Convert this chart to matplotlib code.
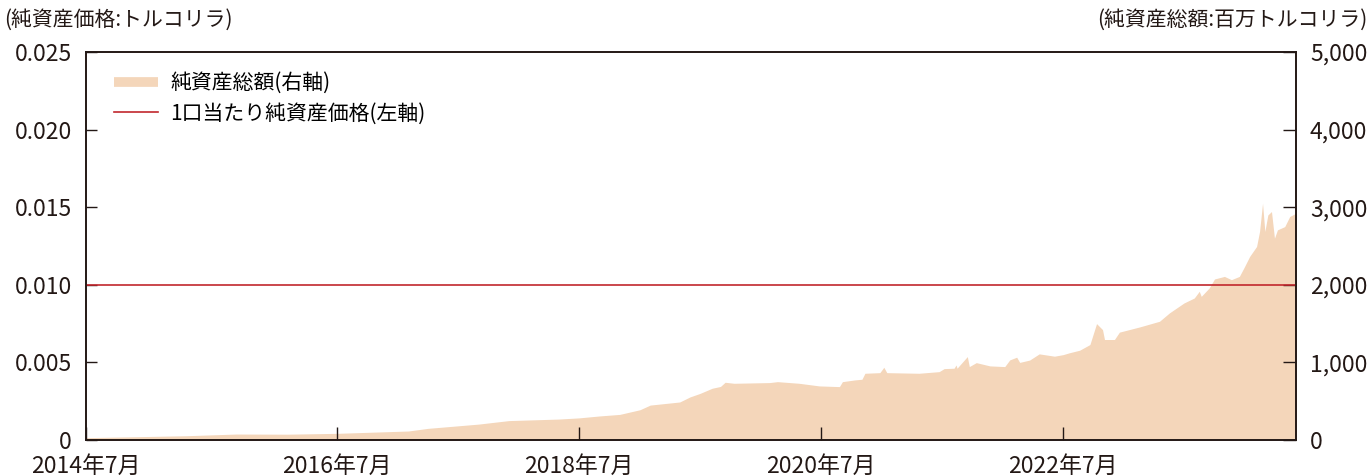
import pandas as pd
import matplotlib.pyplot as plt
from matplotlib.lines import Line2D

plt.rcParams['font.family'] = ['Noto Sans CJK JP', 'DejaVu Sans']

# 純資産総額 (百万トルコリラ)
nav_dates = [
    '2014-06-04', '2015-04-01', '2015-09-01', '2016-02-01', '2016-07-01',
    '2017-02-01', '2017-04-01', '2017-09-01', '2017-12-01', '2018-05-01',
    '2018-07-01', '2018-09-01', '2018-11-01', '2019-01-01', '2019-02-01',
    '2019-05-01', '2019-06-01', '2019-07-01', '2019-08-07', '2019-09-01',
    '2019-09-15', '2019-10-12', '2020-01-27', '2020-02-20', '2020-04-25',
    '2020-06-25', '2020-08-25', '2020-09-03', '2020-10-10', '2020-11-01',
    '2020-11-10', '2020-12-25', '2021-01-06', '2021-01-15', '2021-04-22',
    '2021-06-22', '2021-07-07', '2021-08-06', '2021-08-12', '2021-08-15',
    '2021-09-15', '2021-09-21', '2021-10-12', '2021-11-22', '2022-01-06',
    '2022-01-21', '2022-02-11', '2022-02-20', '2022-03-22', '2022-04-20',
    '2022-06-05', '2022-07-01', '2022-07-20', '2022-08-20', '2022-09-20',
    '2022-10-10', '2022-10-28', '2022-11-03', '2022-12-03', '2022-12-18',
    '2023-02-18', '2023-04-18', '2023-05-18', '2023-07-01', '2023-08-01',
    '2023-08-16', '2023-08-22', '2023-09-15', '2023-10-01', '2023-10-31',
    '2023-11-21', '2023-12-15', '2023-12-30', '2024-01-15', '2024-02-05',
    '2024-02-14', '2024-02-23', '2024-03-01', '2024-03-10', '2024-03-21',
    '2024-03-30', '2024-04-08', '2024-04-30', '2024-05-15', '2024-06-03',
]
nav_values = [
    30, 55, 77, 75, 86,
    116, 150, 205, 250, 270,
    285, 310, 330, 390, 450,
    490, 555, 600, 667, 690,
    744, 731, 740, 752, 731,
    697, 688, 752, 774, 783,
    860, 868, 937, 868, 860,
    881, 920, 925, 967, 925,
    1075, 946, 997, 955, 946,
    1032, 1067, 1000, 1030, 1110,
    1080, 1100, 1124, 1157, 1230,
    1500, 1423, 1295, 1295, 1390,
    1458, 1530, 1638, 1766, 1830,
    1916, 1851, 1959, 2075, 2108,
    2066, 2108, 2229, 2365, 2494,
    2687, 3050, 2687, 2900, 2944,
    2600, 2708, 2750, 2880, 2923,
]

# 1口当たり純資産価格 (トルコリラ)
price_dates = ['2014-06-04', '2024-06-03']
price_values = [0.01, 0.01]

x_ticks = ['2014-06-04', '2016-07-01', '2018-07-01', '2020-07-01', '2022-07-01']
x_labels = ['2014年7月', '2016年7月', '2018年7月', '2020年7月', '2022年7月']
left_ticks = [0, 0.005, 0.010, 0.015, 0.020, 0.025]
left_labels = ['0', '0.005', '0.010', '0.015', '0.020', '0.025']
right_ticks = [0, 1000, 2000, 3000, 4000, 5000]
right_labels = ['0', '1,000', '2,000', '3,000', '4,000', '5,000']

peach = '#F4D6BA'
red = '#C1272D'
dark = '#231815'

fig = plt.figure(figsize=(13.71, 4.76), dpi=100)
ax = fig.add_axes([0.0627, 0.0756, 0.8826, 0.8152])
ax2 = ax.twinx()

nd = pd.to_datetime(nav_dates)
ax2.fill_between(nd, nav_values, 0, color=peach, linewidth=0)
ax2.set_ylim(0, 5000)
ax2.set_yticks(right_ticks)
ax2.set_yticklabels(right_labels)

ax.plot(pd.to_datetime(price_dates), price_values, color=red, lw=1.2)
ax.set_zorder(ax2.get_zorder() + 1)
ax.patch.set_visible(False)
ax.set_ylim(0, 0.025)
ax.set_yticks(left_ticks)
ax.set_yticklabels(left_labels)
ax.set_xlim(pd.Timestamp('2014-06-04'), pd.Timestamp('2024-06-03'))
ax.set_xticks(pd.to_datetime(x_ticks))
ax.set_xticklabels(x_labels)

for a in (ax, ax2):
    for s in a.spines.values():
        s.set_color(dark)
        s.set_linewidth(1.2)
ax.tick_params(axis='x', direction='in', length=9.5, width=1, color=dark,
               labelsize=16.5, pad=11, colors=dark)
ax.tick_params(axis='y', direction='in', length=8, width=1, color=dark,
               labelsize=16.5, pad=10, colors=dark)
ax2.tick_params(axis='y', direction='in', length=9.5, width=1, color=dark,
                labelsize=16.5, pad=10, colors=dark)

handles = [Line2D([], [], color=peach, lw=7, solid_capstyle='butt'),
           Line2D([], [], color=red, lw=1.2)]
labels = ['純資産総額(右軸)', '1口当たり純資産価格(左軸)']
ax.legend(handles, labels, loc='upper left', bbox_to_anchor=(0.023, 0.948),
          frameon=False, fontsize=15, handlelength=2.1, handletextpad=0.6,
          labelspacing=0.4, borderaxespad=0, borderpad=0)

fig.text(0.003, 1 - 20 / 476, '(純資産価格:トルコリラ)', fontsize=15,
         va='center', ha='left', color=dark)
fig.text(0.997, 1 - 20 / 476, '(純資産総額:百万トルコリラ)', fontsize=15,
         va='center', ha='right', color=dark)

fig.savefig('out.png', dpi=100)
